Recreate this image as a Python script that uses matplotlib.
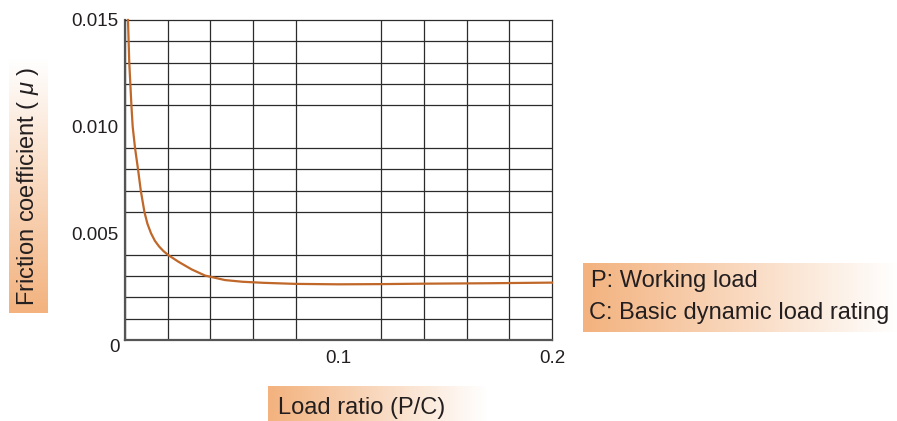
import numpy as np
import matplotlib
matplotlib.use("Agg")
import matplotlib.pyplot as plt
from matplotlib.colors import LinearSegmentedColormap

# =============================================================================
# Data
# =============================================================================
load_ratio = [0.0014, 0.0017, 0.0020, 0.0025, 0.0030, 0.0036, 0.0047, 0.0061,
              0.0074, 0.0091, 0.0105, 0.0122, 0.0140, 0.0160, 0.0180, 0.0200,
              0.0250, 0.0312, 0.0375, 0.0468, 0.0550, 0.0650, 0.0800, 0.1000,
              0.1200, 0.1400, 0.1700, 0.2000]
friction = [0.0150, 0.0140, 0.0130, 0.0120, 0.0110, 0.0100, 0.0090, 0.0080,
            0.0070, 0.0060, 0.00545, 0.0050, 0.00465, 0.00438, 0.00417, 0.0040,
            0.00367, 0.00331, 0.00302, 0.00281, 0.00273, 0.00268, 0.00263,
            0.00261, 0.00262, 0.00264, 0.00266, 0.00269]

x_ticks = [0.1, 0.2]
x_tick_labels = ["0.1", "0.2"]
y_ticks = [0.005, 0.010, 0.015]
y_tick_labels = ["0.005", "0.010", "0.015"]

x_label = "Load ratio (P/C)"
y_label = "Friction coefficient ( $\\mu$ )"
legend_lines = ["P: Working load", "C: Basic dynamic load rating"]

# =============================================================================
# Styling
# =============================================================================
W, H = 897, 421
TEXT = "#231f20"
CURVE = "#c0672a"
ORANGE = "#f3b27e"
plt.rcParams["font.family"] = ["Liberation Sans", "DejaVu Sans"]
plt.rcParams["mathtext.fontset"] = "custom"
plt.rcParams["mathtext.it"] = "Liberation Sans:italic"

fade = LinearSegmentedColormap.from_list("fade", [ORANGE, "#ffffff"])


def px_rect(x0, y0, x1, y1):
    """Pixel box (top-left origin) -> figure fraction rect."""
    return [x0 / W, 1 - y1 / H, (x1 - x0) / W, (y1 - y0) / H]


def gradient_box(fig, x0, y0, x1, y1, vertical=False):
    bax = fig.add_axes(px_rect(x0, y0, x1, y1), zorder=0)
    ramp = np.linspace(0, 1, 256)
    img = ramp[::-1, None] if vertical else ramp[None, :]
    bax.imshow(img, cmap=fade, aspect="auto", extent=(0, 1, 0, 1))
    bax.set_axis_off()
    return bax


fig = plt.figure(figsize=(W / 100, H / 100), dpi=100)

# --- main axes ---
ax = fig.add_axes(px_rect(125, 20, 552, 340), zorder=2)
ax.set_xlim(0, 0.2)
ax.set_ylim(0, 0.015)

ax.set_xticks(np.arange(0, 0.2001, 0.02), minor=True)
ax.set_yticks(np.arange(0, 0.01501, 0.001), minor=True)
ax.grid(which="minor", color="#2b2b2b", linewidth=0.9)
ax.set_xticks(x_ticks, x_tick_labels)
ax.set_yticks(y_ticks, y_tick_labels)
ax.tick_params(which="both", length=0)
ax.tick_params(axis="x", pad=7, labelsize=13.5, labelcolor=TEXT)
ax.tick_params(axis="y", pad=5, labelsize=13.5, labelcolor=TEXT)
ax.annotate("0", xy=(0, 0), xytext=(-11, -7), textcoords="offset pixels",
            ha="center", va="center", fontsize=13.5, color=TEXT)

for name, sp in ax.spines.items():
    sp.set_color("#2b2b2b")
    sp.set_linewidth(0.9)
for name in ("left", "bottom"):
    ax.spines[name].set_color("#555555")
    ax.spines[name].set_linewidth(1.6)

ax.plot(load_ratio, friction, color=CURVE, linewidth=1.6,
        solid_joinstyle="round", clip_on=False, zorder=3)

# --- gradient label boxes ---
gradient_box(fig, 9, 59, 47, 313, vertical=True)
fig.text(28 / W, 1 - 186 / H, y_label, rotation=90, ha="center", va="center",
         fontsize=17, color=TEXT)

gradient_box(fig, 268, 386, 486, 421)
fig.text(278 / W, 1 - 408 / H, x_label, ha="left", va="center",
         fontsize=17, color=TEXT)

gradient_box(fig, 583, 263, 897, 332)
fig.text(591 / W, 1 - 281 / H, legend_lines[0], ha="left", va="center",
         fontsize=17, color=TEXT)
fig.text(589 / W, 1 - 313 / H, legend_lines[1], ha="left", va="center",
         fontsize=17, color=TEXT)

fig.savefig("out.png", dpi=100, facecolor="white")
